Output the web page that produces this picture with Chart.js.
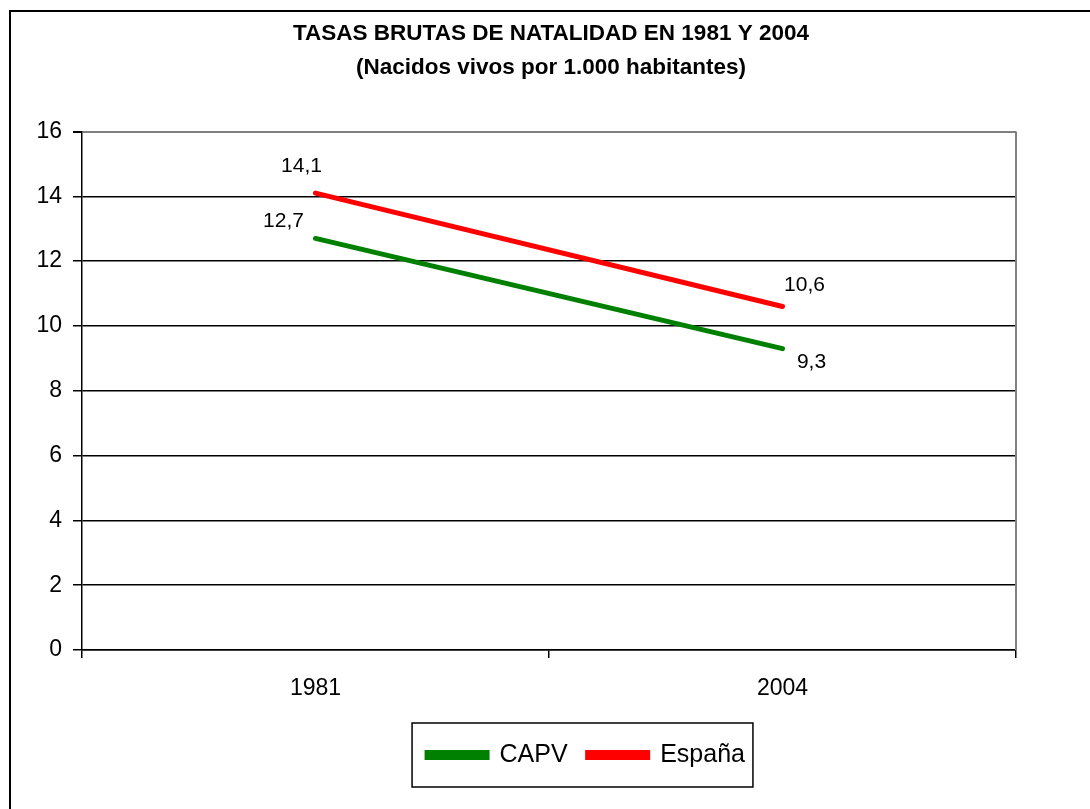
<!DOCTYPE html>
<html>
<head>
<meta charset="utf-8">
<script src="https://cdn.jsdelivr.net/npm/chart.js@4.4.1/dist/chart.umd.min.js"></script>
<style>
  html, body { margin: 0; padding: 0; background: #fff; }
  #wrap { width: 1090px; height: 809px; }
</style>
</head>
<body>
<div id="wrap"><canvas id="myChart" width="1090" height="809"></canvas></div>
<script>
// data
const years = ['1981', '2004'];
const capv = [12.7, 9.3];
const espana = [14.1, 10.6];
const titleLines = ['TASAS BRUTAS DE NATALIDAD EN 1981 Y 2004', '(Nacidos vivos por 1.000 habitantes)'];

const FONT = "'Liberation Sans', Arial, sans-serif";

// label offsets from each point, in px (dataset -> point)
const labelOffsets = [
  [[-32, -17], [29, 14]],
  [[-14, -27], [22, -21]]
];

const framePlugin = {
  id: 'frame',
  afterUpdate(chart) {
    // title centred over the plot, legend moved to where the original has it
    const t = chart.titleBlock;
    const dxT = 551 - (t.left + t.right) / 2;
    t.left += dxT; t.right += dxT;

    const lg = chart.legend;
    const pad = lg.options.labels.padding;
    const fs = lg.options.labels.font.size;
    const dx = 586 - (lg.left + lg.right) / 2;
    const dy = (755 - pad - fs / 2) - lg.top;
    lg.left += dx; lg.right += dx;
    lg.top += dy; lg.bottom += dy;
    (lg.legendHitBoxes || []).forEach(hb => { hb.left += dx; hb.top += dy; });
  },
  beforeDraw(chart) {
    const ctx = chart.ctx;
    ctx.save();
    ctx.fillStyle = '#fff';
    ctx.fillRect(0, 0, chart.width, chart.height);
    ctx.strokeStyle = '#000';
    ctx.lineWidth = 2;
    ctx.strokeRect(10, 11, chart.width + 20, chart.height + 20);
    ctx.restore();
  },
  afterDraw(chart) {
    const ctx = chart.ctx;
    const a = chart.chartArea;
    ctx.save();
    // right edge of plot area
    ctx.strokeStyle = '#808080';
    ctx.lineWidth = 2;
    ctx.beginPath();
    ctx.moveTo(a.right, a.top);
    ctx.lineTo(a.right, a.bottom);
    ctx.stroke();
    // box round the legend
    const boxes = chart.legend.legendHitBoxes;
    if (boxes && boxes.length) {
      const first = boxes[0], last = boxes[boxes.length - 1];
      const cy = first.top + first.height / 2;
      ctx.strokeStyle = '#000';
      ctx.lineWidth = 1.5;
      ctx.strokeRect(first.left - 15, cy - 32, last.left + last.width - first.left + 23, 64);
    }
    ctx.restore();
  },
  afterDatasetsDraw(chart) {
    const ctx = chart.ctx;
    ctx.save();
    ctx.fillStyle = '#000';
    ctx.font = '21px ' + FONT;
    ctx.textAlign = 'center';
    ctx.textBaseline = 'middle';
    chart.data.datasets.forEach((ds, i) => {
      chart.getDatasetMeta(i).data.forEach((pt, j) => {
        const off = labelOffsets[i][j];
        const txt = ds.data[j].toFixed(1).replace('.', ',');
        ctx.fillText(txt, pt.x + off[0], pt.y + off[1]);
      });
    });
    ctx.restore();
  }
};

new Chart(document.getElementById('myChart').getContext('2d'), {
  type: 'line',
  data: {
    labels: years,
    datasets: [
      {
        label: 'CAPV',
        data: capv,
        borderColor: '#008000',
        backgroundColor: '#008000',
        borderWidth: 5,
        borderCapStyle: 'round',
        pointRadius: 0,
        tension: 0
      },
      {
        label: 'España',
        data: espana,
        borderColor: '#ff0000',
        backgroundColor: '#ff0000',
        borderWidth: 5,
        borderCapStyle: 'round',
        pointRadius: 0,
        tension: 0
      }
    ]
  },
  options: {
    responsive: false,
    animation: false,
    layout: { padding: { left: 0, right: 74, top: 0, bottom: 14 } },
    plugins: {
      tooltip: { enabled: false },
      title: {
        display: true,
        text: titleLines,
        color: '#000',
        font: { family: FONT, size: 22.5, weight: 'bold', lineHeight: 1.5 },
        padding: { top: 17, bottom: 47 }
      },
      legend: {
        position: 'bottom',
        labels: {
          color: '#000',
          font: { family: FONT, size: 25 },
          boxWidth: 60,
          boxHeight: 5,
          padding: 20
        }
      }
    },
    scales: {
      x: {
        offset: true,
        afterFit(scale) { scale.height = 90; },
        grid: { offset: true, drawOnChartArea: false, color: '#000', tickLength: 8, lineWidth: 1.5 },
        border: { color: '#000', width: 1.5 },
        ticks: { color: '#000', font: { family: FONT, size: 23 }, padding: 17 }
      },
      y: {
        min: 0,
        max: 16,
        afterFit(scale) { scale.width = 82; },
        grid: {
          color: (c) => (c.tick && c.tick.value === 16 ? '#808080' : '#000'),
          lineWidth: (c) => (c.tick && c.tick.value === 16 ? 2 : 1.5),
          tickLength: 9,
          tickColor: '#000'
        },
        border: { color: '#000', width: 1.5 },
        ticks: { stepSize: 2, color: '#000', font: { family: FONT, size: 23 }, padding: 11 }
      }
    }
  },
  plugins: [framePlugin]
});
</script>
</body>
</html>
